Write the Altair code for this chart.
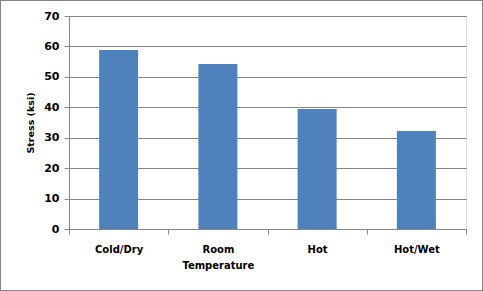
import altair as alt
import pandas as pd

categories = ["Cold/Dry", "Room Temperature", "Hot", "Hot/Wet"]
stress = [58.8, 54.2, 39.4, 32.2]

df = pd.DataFrame({"cond": categories, "stress": stress})

W, H = 397, 213
PL, PT, PR, PB = 69, 16, 17, 62

bars = alt.Chart(df).mark_bar(color="#4F81BD", width=39).encode(
    x=alt.X("cond:N", sort=categories, title=None,
            scale=alt.Scale(paddingInner=0, paddingOuter=0),
            axis=alt.Axis(labelAngle=0, labelExpr="split(datum.label, ' ')",
                          tickBand="extent", tickSize=5, tickColor="#868686",
                          domainColor="#868686", labelPadding=10,
                          labelLineHeight=16, labelFont="DejaVu Sans",
                          labelFontWeight="bold", labelFontSize=10,
                          labelColor="#000000", grid=False)),
    y=alt.Y("stress:Q", title="Stress (ksi)",
            scale=alt.Scale(domain=[0, 70], nice=False),
            axis=alt.Axis(values=[0, 10, 20, 30, 40, 50, 60, 70],
                          tickSize=5, tickColor="#868686", domainColor="#868686",
                          gridColor="#868686", gridWidth=1, labelPadding=5,
                          labelFont="DejaVu Sans", labelFontWeight="bold",
                          labelFontSize=11, labelColor="#000000",
                          titleFont="DejaVu Sans", titleFontWeight="bold",
                          titleFontSize=9.5, titleColor="#000000", titlePadding=8)),
)

border = alt.Chart(df).mark_rect(filled=False, stroke="#868686", strokeWidth=1, clip=False).encode(
    x=alt.value(-PL + 0.5), x2=alt.value(W + PR - 0.5),
    y=alt.value(-PT + 0.5), y2=alt.value(H + PB - 0.5),
)

chart = alt.layer(bars, border).properties(
    width=W, height=H,
    autosize=alt.AutoSizeParams(type="none"),
    padding={"left": PL, "top": PT, "right": PR, "bottom": PB},
).configure_view(stroke=None).configure(background="white")

chart.save("out.html", embed_options={"renderer": "svg", "actions": False})
